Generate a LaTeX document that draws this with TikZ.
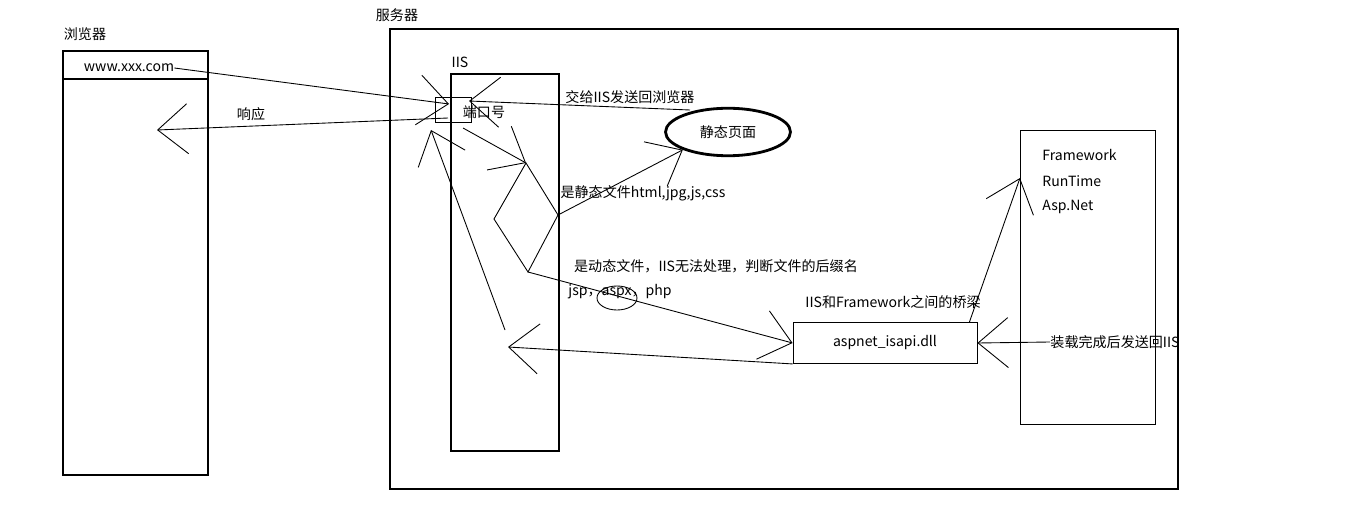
\documentclass[tikz,border=0pt]{standalone}
\usepackage{fontspec}
\setmainfont{Noto Sans CJK SC}
\usetikzlibrary{arrows.meta,shapes.geometric}
\tikzset{
  thickbox/.style={draw,line width=1.6pt},
  thinbox/.style={draw,line width=0.5pt},
  txt/.style={font=\fontsize{8}{9}\selectfont,inner sep=0pt},
  flow/.style={line width=0.5pt,-{Straight Barb[length=0.6cm,width=1.0cm]}}
}
\begin{document}
\begin{tikzpicture}[x=0.02cm,y=-0.02cm]
  \useasboundingbox (0,0) rectangle (1360,527);
  % browser
  \node[txt] (lblbrowser) at (85,34) {浏览器};
  \draw[thickbox] (63,51) rectangle (208,475);
  \draw[line width=1.6pt] (63,79) -- (208,79);
  \node[txt] (url) at (129,68) {www.xxx.com};
  \coordinate (resp) at (157,130);
  \node[txt] (lblresp) at (251,114) {响应};
  % server
  \node[txt] (lblserver) at (397,15) {服务器};
  \draw[thickbox] (390,29) rectangle (1178,489);
  \node[txt] (lbliis) at (460,62) {IIS};
  \draw[thickbox] (451,74) rectangle (559,451);
  \draw[thinbox] (435,97) rectangle (471,122);
  \node[txt] (port) at (484,112) {端口号};
  \coordinate (portin) at (449,104);
  \coordinate (portout) at (448,118);
  \coordinate (porttop) at (469,101);
  \coordinate (portbot) at (431,130);
  \coordinate (portdn) at (463,128);
  % decision
  \coordinate (dtop) at (526,163);
  \coordinate (dleft) at (494,219);
  \coordinate (dright) at (558,215);
  \coordinate (dbot) at (528,272);
  \draw[thinbox] (dtop) -- (dright) -- (dbot) -- (dleft) -- cycle;
  \node[draw,ellipse,line width=1.6pt,minimum width=2.5cm,minimum height=0.95cm,txt] (static) at (728,132) {静态页面};
  \coordinate (backstart) at (690,110);
  \node[txt] (lblback) at (630,97) {交给IIS发送回浏览器};
  \node[txt] (lblstatic) at (643,193) {是静态文件html,jpg,js,css};
  \node[txt] (lbldyn) at (716,266) {是动态文件，IIS无法处理，判断文件的后缀名};
  \node[txt] (ext) at (620,292) {jsp，aspx，php};
  \draw[thinbox] (617,298) ellipse [x radius=20,y radius=12];
  % isapi
  \node[txt] (lblbridge) at (893,302) {IIS和Framework之间的桥梁};
  \node[thinbox,minimum width=3.68cm,minimum height=0.82cm,txt] (isapi) at (885,343) {aspnet\_isapi.dll};
  % framework
  \node[thinbox,minimum width=2.7cm,minimum height=5.88cm] (fwbox) at (1087.5,277) {};
  \node[txt,anchor=west] (fw) at (1042,155) {Framework};
  \node[txt,anchor=west] (rt) at (1042,181) {RunTime};
  \node[txt,anchor=west] (asp) at (1042,207) {Asp.Net};
  \coordinate (fwin) at (1020,178);
  \node[txt] (lblload) at (1115,342) {装载完成后发送回IIS};
  \coordinate (retin) at (508,347);
  \coordinate (retup) at (505,330);
  % connectors
  \draw[flow] (url.east) -- (portin);
  \draw[flow] (portout) -- (resp);
  \draw[flow] (backstart) -- (porttop);
  \draw[flow] (portdn) -- (dtop);
  \draw[flow] (dright) -- (static.south west);
  \draw[flow] (dbot) -- (isapi.west);
  \draw[flow] (isapi.south west) -- (retin);
  \draw[flow] (retup) -- (portbot);
  \draw[flow] (isapi.north east) ++(-8,0) -- (fwin);
  \draw[flow] (lblload.west) -- (isapi.east);
\end{tikzpicture}
\end{document}
